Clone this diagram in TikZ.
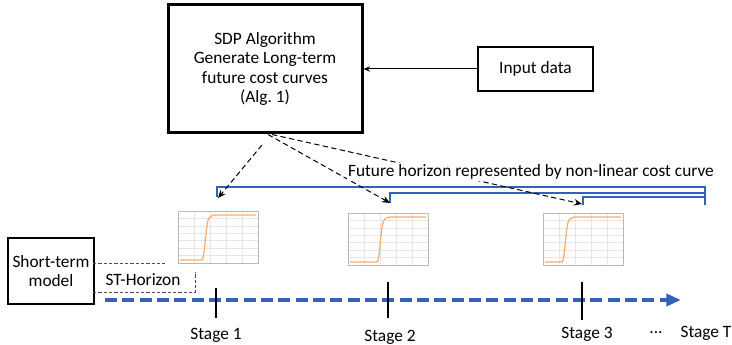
\documentclass[tikz,border=0pt]{standalone}
\usepackage{fontspec}
\setmainfont{Carlito}
\usetikzlibrary{arrows.meta}

\definecolor{horizonblue}{RGB}{52,98,186}
\definecolor{curveorange}{RGB}{252,170,100}

\tikzset{every picture/.style={line width=0.75pt}}
\tikzset{
  box/.style={draw, align=center, fill=white, font=\fontsize{13}{14.5}\selectfont},
  txt/.style={align=center, font=\fontsize{13}{14.5}\selectfont},
  dasharrow/.style={dash pattern=on 4pt off 2.5pt, -{Stealth[length=6pt,width=5pt]}},
  stdash/.style={draw=black!70, dash pattern=on 2.5pt off 1.5pt},
  bracket/.style={draw=horizonblue, line width=1.2pt},
  timeline/.style={draw=horizonblue, line width=3pt, dash pattern=on 9pt off 4pt, -{Triangle[length=11pt,width=9pt,fill=horizonblue]}},
  stagetick/.style={line width=1.5pt},
  plotgrid/.style={gray!20, line width=0.3pt},
  plotframe/.style={gray!55, line width=0.4pt},
  costline/.style={curveorange, line width=0.9pt},
}

\begin{document}
\begin{tikzpicture}[x=0.75pt,y=0.75pt,yscale=-1,xscale=1]
\useasboundingbox (0,0) rectangle (732,345);

%Algorithm box
\node[box, line width=2.25pt, minimum width=145.5pt, minimum height=96pt] (sdp) at (265,69) {SDP Algorithm\\Generate Long-term\\future cost curves\\(Alg.~1)};
%Input box
\node[box, line width=1.5pt, minimum width=86pt, minimum height=33pt] (inp) at (535.5,69) {Input data};
\draw[-{Stealth[length=5pt,width=4pt]}] (inp) -- (sdp);
%Short-term box
\node[box, line width=1.5pt, minimum width=63pt, minimum height=49.5pt] (stm) at (51,271) {Short-term\\model};

%Cost curve pictures
\foreach \px/\py/\rx in {178/211/27, 348/213/32, 543/213/22}{
  \begin{scope}[shift={(\px,\py)}]
    \draw[plotgrid] (0,0) grid[xstep=16,ystep=7.4] (80,52);
    \draw[plotframe] (0,0) rectangle (80,52);
    \draw[costline] (2,49) -- (\rx-3,49) .. controls (\rx-1,48.5) and (\rx,30) .. (\rx+2,15) .. controls (\rx+3,6) and (\rx+5,4) .. (\rx+12,4) -- (78,4);
  \end{scope}
}

%Horizon brackets
\draw[bracket] (217,197) -- (217,187) -- (705,187) -- (705,205);
\draw[bracket] (390,203) -- (390,193) -- (705,193);
\draw[bracket] (583,205) -- (583,197) -- (705,197);

%Dashed arrows to the stages
\coordinate (d1s) at (262,145);
\coordinate (d1e) at (218,198);
\coordinate (d2e) at (390,203);
\coordinate (d3e) at (582,204);
\draw[dasharrow] (d1s) -- (d1e);
\draw[dasharrow] ([xshift=2.25pt]sdp.south) -- (d2e);
\draw[dasharrow] ([xshift=5.25pt]sdp.south) -- (d3e);

\node[txt, fill=white, inner sep=1pt] (fut) at (531,172) {Future horizon represented by non-linear cost curve};

%ST horizon
\coordinate (st1) at (93,264);
\coordinate (st2) at (165,264);
\coordinate (st3) at (93,293);
\coordinate (st4) at (195,293);
\coordinate (st5) at (195,272);
\draw[stdash] (st1) -- (st2);
\draw[stdash] (st3) -- (st4) -- (st5);
\node[txt] (sth) at (143,280) {ST-Horizon};

%Time line
\coordinate (tl0) at (105,300);
\coordinate (tl1) at (681,300);
\draw[timeline] (tl0) -- (tl1);

%Stages
\coordinate (s1a) at (216,288);
\coordinate (s1b) at (216,318);
\coordinate (s2a) at (388,282);
\coordinate (s2b) at (388,318);
\coordinate (s3a) at (582,282);
\coordinate (s3b) at (582,320);
\draw[stagetick] (s1a) -- (s1b);
\draw[stagetick] (s2a) -- (s2b);
\draw[stagetick] (s3a) -- (s3b);

\node[txt] (lab1) at (216,335) {Stage 1};
\node[txt] (lab2) at (390,337) {Stage 2};
\node[txt] (lab3) at (587,334) {Stage 3};
\node[txt] (dots) at (656,333) {...};
\node[txt] (labT) at (706,333) {Stage T};

\end{tikzpicture}
\end{document}
